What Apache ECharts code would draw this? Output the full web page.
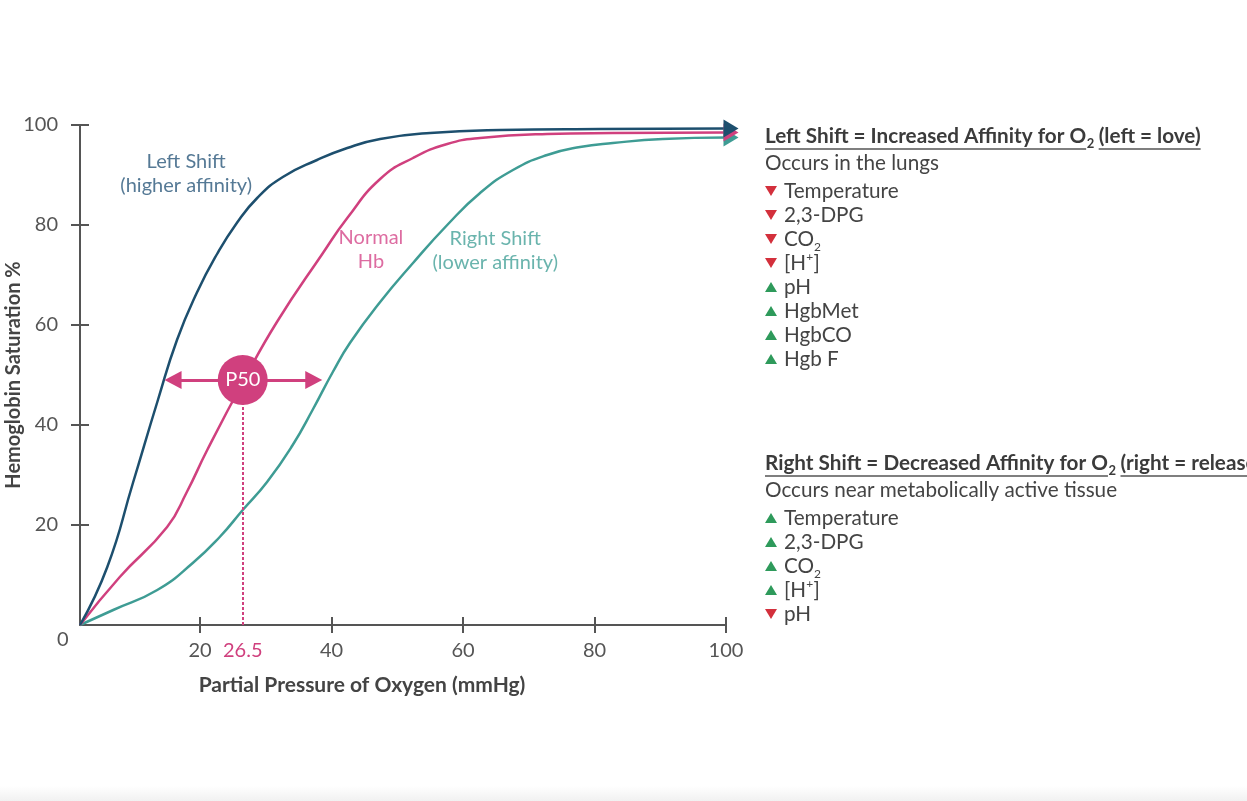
<!DOCTYPE html>
<html>
<head>
<meta charset="utf-8">
<script src="https://cdn.jsdelivr.net/npm/echarts@6/dist/echarts.min.js"></script>
<style>
  html, body { margin: 0; padding: 0; background: #fff; }
  #main { width: 1247px; height: 801px; }
</style>
</head>
<body>
<div id="main"></div>
<script>
// curves: [pO2 mmHg, saturation %]
var leftShift = [[1.75,0],[5.9,11.6],[9.8,28.4],[13.6,45],[16.5,57],[19.5,66.4],[22.6,74.2],[25.6,80.4],[28.7,85.4],[32.6,89.6],[37.8,93],[42.4,95.4],[47.4,97.2],[55.0,98.4],[65.6,99],[80.8,99.2],[100,99.3]];
var normalHb = [[1.75,0],[7.8,9.6],[15.0,19.6],[18.0,26.6],[21.1,35],[26.7,49],[31.7,60.6],[38.7,74.4],[42.4,81.4],[47.4,89.2],[52.4,93.4],[57.6,96.2],[62.6,97.4],[72.8,98.2],[82.8,98.4],[100,98.5]];
var rightShift = [[1.75,0],[6.8,3],[13.5,7],[18.9,12.4],[23.0,17.6],[26.5,23],[30.2,28.6],[34.1,36],[37.2,43.2],[40.2,50.6],[42.8,56.4],[47.4,64.6],[52.4,72.4],[57.6,80],[62.6,86.4],[67.6,91],[72.8,94],[77.8,95.6],[82.8,96.4],[90.4,97.2],[100,97.5]];

var xTicks = [20, 40, 60, 80, 100];
var yTicks = [20, 40, 60, 80, 100];
var p50 = [26.5, 49];
var p50Range = [15.9, 37.3];

var curveNotes = [
  { pos: [17.9, 90.2], text: 'Left Shift\n(higher affinity)', color: '#2a587a' },
  { pos: [46.0, 75.0], text: 'Normal\nHb', color: '#d4478a' },
  { pos: [64.9, 74.9], text: 'Right Shift\n(lower affinity)', color: '#45a198' }
];

// side notes: [arrow, text]; '_' = subscript, '^' = superscript
var leftTitle = ['Left Shift = Increased Affinity for O', '2', '(left = love)'];
var leftWhere = 'Occurs in the lungs';
var leftItems = [['down','Temperature'],['down','2,3-DPG'],['down','CO_2'],['down','[H^+]'],['up','pH'],['up','HgbMet'],['up','HgbCO'],['up','Hgb F']];
var rightTitle = ['Right Shift = Decreased Affinity for O', '2', '(right = release)'];
var rightWhere = 'Occurs near metabolically active tissue';
var rightItems = [['up','Temperature'],['up','2,3-DPG'],['up','CO_2'],['up','[H^+]'],['down','pH']];

var FONT = 'Lato, "Open Sans", sans-serif';
var BLUE = '#1d4f6e', PINK = '#d0407e', TEAL = '#3e9c94';
var AXIS = '#555', TXT = '#444';

var measureCtx = document.createElement('canvas').getContext('2d');
function textWidth(str, size, weight) {
  measureCtx.font = (weight || 'normal') + ' ' + size + 'px ' + FONT;
  return measureCtx.measureText(str).width;
}

function withArrow(data, color) {
  return data.map(function (p, i) {
    if (i < data.length - 1) return p;
    return { value: p, symbol: 'triangle', symbolSize: [18, 15], symbolRotate: -90, symbolOffset: [5, 0], itemStyle: { color: color } };
  });
}

function curve(name, data, color) {
  return {
    name: name, type: 'line', smooth: 0.5, clip: false,
    symbol: 'none', showSymbol: true,
    lineStyle: { color: color, width: 2.5 },
    itemStyle: { color: color },
    data: withArrow(data, color), z: 3
  };
}

var side = [];
function sideBlock(title, where, items, top) {
  var x = 765, size = 20.7;
  var w1 = textWidth(title[0], size, 'bold');
  var ws = textWidth(title[1], 13, 'bold');
  var x2 = x + w1 + ws + 5;
  var w2 = textWidth(title[2], size, 'bold');
  side.push({ type: 'text', x: x, y: top, style: { text: title[0], font: 'bold ' + size + 'px ' + FONT, fill: '#3b3b3b', verticalAlign: 'middle' } });
  side.push({ type: 'text', x: x + w1 + 0.5, y: top + 8, style: { text: title[1], font: 'bold 13px ' + FONT, fill: '#3b3b3b', verticalAlign: 'middle' } });
  side.push({ type: 'text', x: x2, y: top, style: { text: title[2], font: 'bold ' + size + 'px ' + FONT, fill: '#3b3b3b', verticalAlign: 'middle' } });
  side.push({ type: 'line', shape: { x1: x, y1: top + 13, x2: x + w1, y2: top + 13 }, style: { stroke: '#555', lineWidth: 1.5 } });
  side.push({ type: 'line', shape: { x1: x2, y1: top + 13, x2: x2 + w2, y2: top + 13 }, style: { stroke: '#555', lineWidth: 1.5 } });
  side.push({ type: 'text', x: x, y: top + 27, style: { text: where, font: size + 'px ' + FONT, fill: TXT, verticalAlign: 'middle' } });
  items.forEach(function (it, i) {
    var y = top + 55 + i * 24;
    var up = it[0] === 'up';
    side.push({ type: 'polygon', x: x, y: y,
      shape: { points: up ? [[0, 5], [12, 5], [6, -5]] : [[0, -5], [12, -5], [6, 5]] },
      style: { fill: up ? '#2e9a5b' : '#d3303c' } });
    var cx = x + 19;
    var parts = it[1].split(/([_^].)/);
    parts.forEach(function (seg) {
      if (!seg) return;
      var small = seg[0] === '_' || seg[0] === '^';
      var str = small ? seg.slice(1) : seg;
      var fs = small ? 12 : size;
      var dy = seg[0] === '_' ? 8 : (seg[0] === '^' ? -6 : 0);
      side.push({ type: 'text', x: cx, y: y + dy, style: { text: str, font: fs + 'px ' + FONT, fill: TXT, verticalAlign: 'middle' } });
      cx += textWidth(str, fs) + (small ? 0.5 : 0);
    });
  });
}
sideBlock(leftTitle, leftWhere, leftItems, 136);
sideBlock(rightTitle, rightWhere, rightItems, 463);

var chart = echarts.init(document.getElementById('main'));

var option = {
  backgroundColor: '#fff',
  animation: false,
  textStyle: { fontFamily: FONT },
  grid: { left: 80, right: 521, top: 125, bottom: 176, containLabel: false, outerBoundsMode: 'none' },
  xAxis: [{
    type: 'value', min: 1.75, max: 100,
    name: 'Partial Pressure of Oxygen (mmHg)', nameLocation: 'middle', nameGap: 50, nameMoveOverlap: false,
    nameTextStyle: { fontSize: 21, fontWeight: 'bold', color: TXT, fontFamily: FONT, padding: [0, 82, 0, 0] },
    axisLine: { show: true, lineStyle: { color: AXIS, width: 2 } },
    axisTick: { show: true, length: 8, customValues: xTicks, lineStyle: { color: AXIS, width: 2 } },
    axisLabel: {
      customValues: [20, 26.5, 40, 60, 80, 100], margin: 16, fontSize: 20, color: AXIS, fontFamily: FONT,
      formatter: function (v) { return v === 26.5 ? '{p|26.5}' : String(v); },
      rich: { p: { color: PINK, fontSize: 20, fontFamily: FONT } }
    },
    splitLine: { show: false }
  }, {
    type: 'value', min: 1.75, max: 100, position: 'bottom', gridIndex: 0,
    axisLine: { show: false },
    axisTick: { show: true, inside: true, length: 8, customValues: xTicks, lineStyle: { color: AXIS, width: 2 } },
    axisLabel: { show: false }, splitLine: { show: false }
  }],
  yAxis: [{
    type: 'value', min: 0, max: 100,
    name: 'Hemoglobin Saturation %', nameLocation: 'middle', nameGap: 56, nameMoveOverlap: false,
    nameTextStyle: { fontSize: 20, fontWeight: 'bold', color: TXT, fontFamily: FONT },
    axisLine: { show: true, lineStyle: { color: AXIS, width: 2 } },
    axisTick: { show: true, length: 9, customValues: yTicks, lineStyle: { color: AXIS, width: 2 } },
    axisLabel: { customValues: yTicks, margin: 22, fontSize: 20, color: AXIS, fontFamily: FONT },
    splitLine: { show: false }
  }, {
    type: 'value', min: 0, max: 100, position: 'left', gridIndex: 0,
    axisLine: { show: false },
    axisTick: { show: true, inside: true, length: 9, customValues: yTicks, lineStyle: { color: AXIS, width: 2 } },
    axisLabel: { show: false }, splitLine: { show: false }
  }],
  series: [
    curve('Right Shift', rightShift, TEAL),
    curve('Normal Hb', normalHb, PINK),
    curve('Left Shift', leftShift, BLUE),
    {
      name: 'P50 guides', type: 'line', data: [], z: 4,
      markLine: {
        silent: true, animation: false,
        label: { show: false },
        data: [
          [{ coord: [p50[0], 0], symbol: 'none' }, { coord: [p50[0], p50[1]], symbol: 'none', lineStyle: { type: [3, 2], width: 2, color: PINK } }],
          [{ coord: [p50Range[0], p50[1]], symbol: 'triangle', symbolSize: [18, 17] }, { coord: [p50Range[1], p50[1]], symbol: 'triangle', symbolSize: [18, 17], lineStyle: { type: 'solid', width: 3, color: PINK } }]
        ],
        lineStyle: { color: PINK, width: 2 }
      }
    },
    {
      name: 'P50', type: 'scatter', z: 6,
      data: [p50], symbolSize: 50,
      itemStyle: { color: PINK, opacity: 1 },
      label: { show: true, position: 'inside', formatter: 'P50', color: '#fff', fontSize: 20, fontFamily: FONT }
    },
    {
      name: 'notes', type: 'scatter', z: 5, silent: true,
      symbolSize: 1, itemStyle: { color: 'rgba(0,0,0,0)' },
      data: curveNotes.map(function (n) {
        return { value: n.pos, label: { show: true, position: 'inside', formatter: n.text, color: n.color, fontSize: 20, lineHeight: 24, fontFamily: FONT } };
      })
    }
  ],
  graphic: [
    { type: 'rect', left: 0, top: 786, shape: { width: 1247, height: 15 }, silent: true,
      style: { fill: new echarts.graphic.LinearGradient(0, 0, 0, 1, [{ offset: 0, color: '#ffffff' }, { offset: 1, color: '#f1f1f1' }]) } },
    { type: 'text', left: 57, top: 630, style: { text: '0', font: '20px ' + FONT, fill: AXIS } },
    { type: 'group', children: side }
  ]
};

chart.setOption(option);
</script>
</body>
</html>
